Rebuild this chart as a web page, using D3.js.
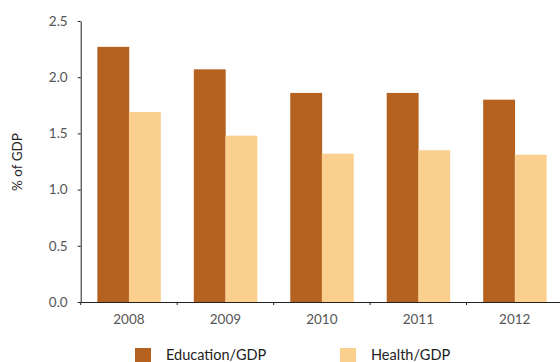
<!DOCTYPE html>
<html>
<head>
<meta charset="utf-8">
<script src="https://cdn.jsdelivr.net/npm/d3@7"></script>
<style>
  html, body { margin: 0; padding: 0; background: #fff; }
  #wrapper { width: 560px; height: 362px; overflow: hidden; }
  svg { display: block; }
</style>
</head>
<body>
<div id="wrapper"></div>
<script>
const years = ["2008", "2009", "2010", "2011", "2012"];
const education = [2.27, 2.07, 1.86, 1.86, 1.80];
const health = [1.69, 1.48, 1.32, 1.35, 1.31];
const seriesNames = ["Education/GDP", "Health/GDP"];
const colors = ["#b56220", "#fbcf8e"];
const yTicks = [0, 0.5, 1, 1.5, 2, 2.5];

const dataset = years.map((y, i) => ({ year: y, values: [education[i], health[i]] }));

const dimensions = {
    width: 560,
    height: 362,
    margin: { top: 21, left: 80.7, bottom: 60, right: -3 },
};
dimensions.boundedWidth = dimensions.width - dimensions.margin.left - dimensions.margin.right;
dimensions.boundedHeight = dimensions.height - dimensions.margin.top - dimensions.margin.bottom;

const font = "'Lato', 'DejaVu Sans', sans-serif";

const xScale = d3.scaleBand()
    .domain(years)
    .range([0, dimensions.boundedWidth])
    .paddingInner(0.345)
    .paddingOuter(0.1725);

const subScale = d3.scaleBand()
    .domain([0, 1])
    .range([0, xScale.bandwidth()]);

const yScale = d3.scaleLinear()
    .domain([0, 2.5])
    .range([dimensions.boundedHeight, 0]);

const wrapper = d3.select("#wrapper")
    .append("svg")
    .attr("width", dimensions.width)
    .attr("height", dimensions.height);

const bounds = wrapper.append("g")
    .attr("transform", `translate(${dimensions.margin.left}, ${dimensions.margin.top})`);

// bars
const groups = bounds.selectAll(".group")
    .data(dataset)
    .join("g")
    .attr("transform", d => `translate(${xScale(d.year)}, 0)`);

groups.selectAll("rect")
    .data(d => d.values)
    .join("rect")
    .attr("x", (d, i) => subScale(i))
    .attr("y", d => yScale(d))
    .attr("width", subScale.bandwidth() + 0.3)
    .attr("height", d => dimensions.boundedHeight - yScale(d))
    .attr("fill", (d, i) => colors[i]);

// y axis
const yAxis = bounds.append("g")
    .call(d3.axisLeft(yScale).tickValues(yTicks).tickFormat(d3.format(".1f")).tickSize(3).tickSizeOuter(0).tickPadding(10));
yAxis.select(".domain").attr("stroke", "#222");
yAxis.selectAll(".tick line").attr("stroke", "#222");
yAxis.selectAll("text")
    .attr("fill", "#555")
    .style("font-family", font)
    .style("font-size", "13.5px");

// x axis
const xAxis = bounds.append("g")
    .attr("transform", `translate(0, ${dimensions.boundedHeight})`)
    .call(d3.axisBottom(xScale).tickSize(0).tickPadding(12));
xAxis.select(".domain").attr("stroke", "#222");
xAxis.selectAll("text")
    .attr("fill", "#555")
    .style("font-family", font)
    .style("font-size", "13.5px");

// tick marks between categories
const step = xScale.step();
xAxis.selectAll(".sep")
    .data(years)
    .join("line")
    .attr("x1", d => xScale(d) - step * xScale.paddingInner() / 2)
    .attr("x2", d => xScale(d) - step * xScale.paddingInner() / 2)
    .attr("y1", 0)
    .attr("y2", 3)
    .attr("stroke", "#222");

// y label
wrapper.append("text")
    .attr("transform", `translate(22, 162) rotate(-90)`)
    .attr("text-anchor", "middle")
    .attr("fill", "#222")
    .style("font-family", font)
    .style("font-size", "13.5px")
    .text("% of GDP");

// legend
const legendX = [135, 340];
const legend = wrapper.selectAll(".legend")
    .data(seriesNames)
    .join("g")
    .attr("transform", (d, i) => `translate(${legendX[i]}, 348)`);

legend.append("rect")
    .attr("width", 16)
    .attr("height", 16)
    .attr("fill", (d, i) => colors[i]);

legend.append("text")
    .attr("x", 31)
    .attr("y", 12)
    .attr("fill", "#222")
    .style("font-family", font)
    .style("font-size", "14.5px")
    .text(d => d);
</script>
</body>
</html>
